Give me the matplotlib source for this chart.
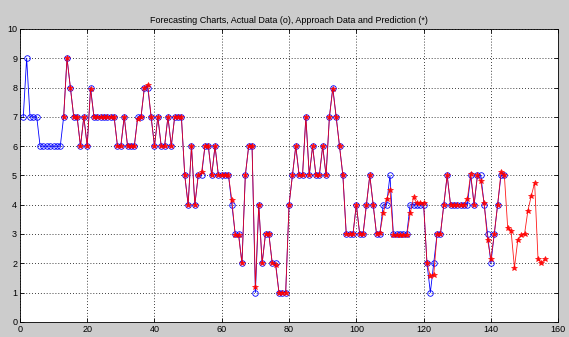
import numpy as np
import matplotlib
matplotlib.use('Agg')
import matplotlib.pyplot as plt

plt.rcParams['font.family'] = ['Liberation Sans', 'DejaVu Sans']

# actual data (o), x = 1..144
actual_x = np.arange(1, 145)
actual_y = [7, 9, 7, 7, 7, 6, 6, 6, 6, 6, 6, 6, 7, 9, 8, 7, 7, 6, 7, 6,
            8, 7, 7, 7, 7, 7, 7, 7, 6, 6, 7, 6, 6, 6, 7, 7, 8, 8, 7, 6,
            7, 6, 6, 7, 6, 7, 7, 7, 5, 4, 6, 4, 5, 5, 6, 6, 5, 6, 5, 5,
            5, 5, 4, 3, 3, 2, 5, 6, 6, 1, 4, 2, 3, 3, 2, 2, 1, 1, 1, 4,
            5, 6, 5, 5, 7, 5, 6, 5, 5, 6, 5, 7, 8, 7, 6, 5, 3, 3, 3, 4,
            3, 3, 4, 5, 4, 3, 3, 4, 4, 5, 3, 3, 3, 3, 3, 4, 4, 4, 4, 4,
            2, 1, 2, 3, 3, 4, 5, 4, 4, 4, 4, 4, 4, 5, 4, 5, 5, 4, 3, 2,
            3, 4, 5, 5]

# approach data and prediction (*), x = 13..156
pred_x = np.arange(13, 157)
pred_y = [7, 9, 8, 7, 7, 6, 7, 6, 7.95, 7, 7, 7, 7, 7, 7, 7, 6, 6, 7, 6,
          6, 6, 6.93, 7, 8, 8.1, 7, 6, 7, 6, 6, 7, 6, 7, 7, 7, 5, 4, 6, 4,
          5, 5.1, 6, 6, 5, 6, 5, 5, 5, 5, 4.15, 2.95, 2.95, 2, 5, 6, 6, 1.2, 4, 2,
          3, 3, 2, 1.95, 1, 1, 1, 4, 5, 6, 5, 5, 7, 5, 6, 5, 5, 6, 5, 7,
          7.95, 7, 6, 5, 3, 3, 3, 4, 3, 3, 4, 5, 4, 3, 3.05, 3.7, 4.2, 4.5, 2.95, 2.95,
          2.95, 2.95, 2.95, 3.7, 4.25, 4.05, 4.05, 4.05, 2, 1.55, 1.6, 3, 3, 4, 5, 4, 4, 4,
          4, 4, 4.2, 5.05, 4, 5, 4.8, 4.05, 2.8, 2.15, 3, 4, 5.1, 5, 3.2, 3.1, 1.85, 2.8,
          2.95, 3.0, 3.8, 4.3, 4.75, 2.15, 2.0, 2.15]

fig = plt.figure(figsize=(5.69, 3.37), dpi=100, facecolor='#cccccc')
ax = fig.add_axes([0.035, 0.045, 0.946, 0.869])
ax.set_facecolor('white')

ax.plot(actual_x, actual_y, '-o', color='blue', mfc='none', ms=4, lw=0.6, mew=0.6)
ax.plot(pred_x, pred_y, '-*', color='red', ms=4, lw=0.6, mew=0.5, alpha=0.9)

ax.set_xlim(0, 160)
ax.set_ylim(0, 10)
ax.set_xticks(np.arange(0, 161, 20))
ax.set_yticks(np.arange(0, 11, 1))
ax.grid(True, color='black', linestyle=(0, (1, 2.5)), linewidth=0.6)
ax.tick_params(direction='in', labelsize=6.5, length=3, width=0.6, pad=2,
               top=True, right=True)
for s in ax.spines.values():
    s.set_linewidth(0.6)

ax.set_title('Forecasting Charts, Actual Data (o), Approach Data and Prediction (*)',
             fontsize=6.5, pad=4)

fig.savefig('out.png', dpi=100, facecolor=fig.get_facecolor())
